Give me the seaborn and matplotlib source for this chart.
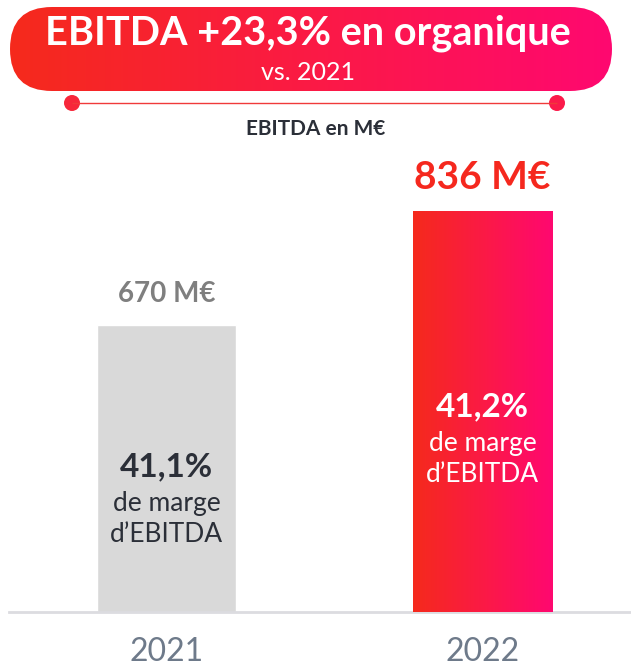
import numpy as np
import pandas as pd
import matplotlib
matplotlib.use("Agg")
import matplotlib.pyplot as plt
from matplotlib.patches import FancyBboxPatch, Circle
from matplotlib.colors import LinearSegmentedColormap
import seaborn as sns

# Data
years = ["2021", "2022"]
ebitda = [670, 836]
value_labels = ["670 M€", "836 M€"]
margins = ["41,1%", "41,2%"]
title = "EBITDA +23,3% en organique"
subtitle = "vs. 2021"
axis_title = "EBITDA en M€"

W, H = 631, 667
sns.set_theme(style="white")
plt.rcParams["font.family"] = ["Lato", "DejaVu Sans"]

RED = "#f52a1c"
PINK = "#ff0870"
grad_cmap = LinearSegmentedColormap.from_list("brand", [RED, "#fb1a45", PINK])
GRAY_BAR = "#d9d9d9"
DARK = "#2b2f38"

fig = plt.figure(figsize=(W / 100, H / 100), dpi=100)
fig.patch.set_facecolor("white")

# Bar chart area
ax = fig.add_axes([9 / W, 55 / H, 622 / W, 512 / H])
df = pd.DataFrame({"year": years, "ebitda": ebitda})
sns.barplot(data=df, x="year", y="ebitda", hue="year", order=years,
            palette=[GRAY_BAR, RED], width=0.44, legend=False, ax=ax,
            saturation=1)

y_lo, y_hi = 252, 998
x_lo, x_hi = -0.498, 1.47

# Gradient fill on the 2022 bar
bar = ax.patches[1]
grad = np.linspace(0, 1, 256).reshape(1, -1)
im = ax.imshow(grad, cmap=grad_cmap, aspect="auto",
               extent=[bar.get_x(), bar.get_x() + bar.get_width(), y_lo, bar.get_height()],
               zorder=3)
im.set_clip_path(bar)

ax.set_xlim(x_lo, x_hi)
ax.set_ylim(y_lo, y_hi)
for s in ["top", "right", "left"]:
    ax.spines[s].set_visible(False)
ax.spines["bottom"].set_color("#dcdce0")
ax.spines["bottom"].set_linewidth(2)
ax.set_yticks([])
ax.set_xlabel("")
ax.set_ylabel("")
ax.tick_params(axis="x", length=0, pad=18, labelsize=23, labelcolor="#6e7a8a")
for lbl in ax.get_xticklabels():
    lbl.set_fontweight("normal")

# Value labels above bars
val_colors = ["#7f7f7f", "#f5281e"]
val_sizes = [20, 28]
val_offsets = [13, 12]
for i, (v, lab) in enumerate(zip(ebitda, value_labels)):
    ax.annotate(lab, (i, v), xytext=(0, val_offsets[i]), textcoords="offset points",
                ha="center", va="bottom", fontsize=val_sizes[i], fontweight="bold",
                color=val_colors[i], zorder=5)

# Margin labels inside bars
txt_colors = [DARK, "white"]
centers = [467, 407]  # pixel y (from top) of the percentage line
to_data = lambda py: y_lo + (612 - py) * (y_hi - y_lo) / 512
for i, m in enumerate(margins):
    c = txt_colors[i]
    yc = centers[i]
    ax.text(i, to_data(yc), m, ha="center", va="center", fontsize=24,
            fontweight="bold", color=c, zorder=5)
    ax.text(i, to_data(yc + 36), "de marge", ha="center", va="center",
            fontsize=19, color=c, zorder=5)
    ax.text(i, to_data(yc + 67), "d\u2019EBITDA", ha="center", va="center",
            fontsize=19, color=c, zorder=5)

# Header overlay in pixel coordinates
hx = fig.add_axes([0, 0, 1, 1], zorder=10)
hx.set_xlim(0, W)
hx.set_ylim(H, 0)
hx.axis("off")
hx.patch.set_alpha(0)

pill = FancyBboxPatch((10, 7), 602, 84, boxstyle="round,pad=0,rounding_size=42",
                      linewidth=0, facecolor="none")
hx.add_patch(pill)
pim = hx.imshow(grad, cmap=grad_cmap, aspect="auto", extent=[10, 612, 91, 7])
pim.set_clip_path(pill)
hx.set_xlim(0, W)
hx.set_ylim(H, 0)

hx.text(308, 33, title, ha="center", va="center", fontsize=28.5,
        fontweight="bold", color="white")
hx.text(308, 73, subtitle, ha="center", va="center", fontsize=18,
        fontweight="normal", color="white")

# Connector line with end dots
hx.plot([72, 557], [103, 103], color="#f03a3a", lw=1, solid_capstyle="butt")
hx.add_patch(Circle((72, 103), 8, color="#f7273a", lw=0))
hx.add_patch(Circle((557, 103), 8, color="#fb1a4a", lw=0))

hx.text(316, 129, axis_title, ha="center", va="center", fontsize=15,
        fontweight="bold", color=DARK)

fig.savefig("out.png", dpi=100, facecolor="white")
